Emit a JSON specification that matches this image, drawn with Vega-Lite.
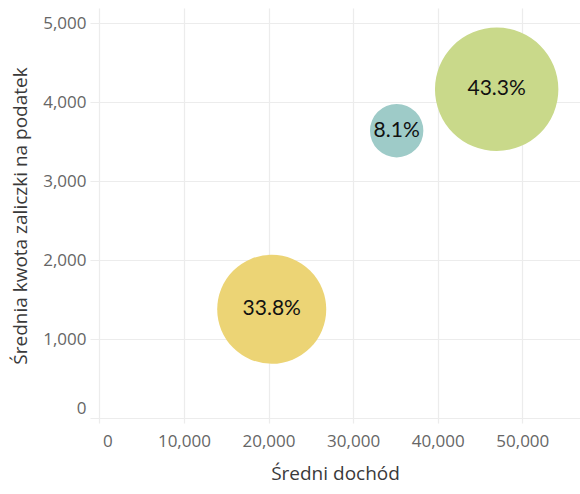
{
  "$schema": "https://vega.github.io/schema/vega-lite/v6.json",
  "width": 490,
  "height": 415,
  "autosize": {"type": "none"},
  "padding": {"left": 90, "top": 8, "right": 0, "bottom": 71},
  "background": "white",
  "config": {"view": {"stroke": null}},
  "data": {"values": [
    {"dochod": 20380, "zaliczka": 1376, "udzial": 33.8, "label": "33.8%", "grupa": "A"},
    {"dochod": 35150, "zaliczka": 3637, "udzial": 8.1, "label": "8.1%", "grupa": "B"},
    {"dochod": 46970, "zaliczka": 4161, "udzial": 43.3, "label": "43.3%", "grupa": "C"}
  ]},
  "encoding": {
    "x": {"field": "dochod", "type": "quantitative", "title": "Średni dochód",
      "scale": {"domain": [-1100, 56820], "nice": false, "zero": false},
      "axis": {"values": [0, 10000, 20000, 30000, 40000, 50000], "format": ",d",
        "domain": false, "ticks": false, "gridColor": "#ececec", "gridWidth": 1.2,
        "labelFont": "Open Sans", "labelFontSize": 17, "labelColor": "#666666",
        "labelPadding": 10, "labelOffset": {"condition": {"test": "datum.value == 0", "value": 8}, "value": 0},
        "titleFont": "Open Sans", "titleFontSize": 19, "titleFontWeight": "normal", "titleColor": "#3a3a3a", "titlePadding": 15}},
    "y": {"field": "zaliczka", "type": "quantitative", "title": "Średnia kwota zaliczki na podatek",
      "scale": {"domain": [-63, 5190], "nice": false, "zero": false},
      "axis": {"values": [0, 1000, 2000, 3000, 4000, 5000], "format": ",d",
        "domain": false, "ticks": false, "gridColor": "#ececec", "gridWidth": 1.2,
        "labelFont": "Open Sans", "labelFontSize": 17, "labelColor": "#666666",
        "labelPadding": 4, "labelOffset": {"condition": {"test": "datum.value == 0", "value": -10}, "value": 0},
        "titleFont": "Open Sans", "titleFontSize": 19, "titleFontWeight": "normal", "titleColor": "#3a3a3a",
        "titleX": -70, "titleBaseline": "middle"}}
  },
  "layer": [
    {"mark": {"type": "circle", "opacity": 1},
      "encoding": {
        "size": {"field": "udzial", "type": "quantitative", "legend": null,
          "scale": {"type": "linear", "domain": [0, 43.3], "range": [0, 15228], "zero": true}},
        "color": {"field": "grupa", "type": "nominal", "legend": null,
          "scale": {"domain": ["A", "B", "C"], "range": ["#ecd475", "#9ecbc8", "#c9d98a"]}}
      }},
    {"mark": {"type": "text", "font": "Lato", "fontSize": 21, "color": "#111111", "baseline": "middle", "align": "center"},
      "encoding": {"text": {"field": "label", "type": "nominal"}}}
  ]
}
